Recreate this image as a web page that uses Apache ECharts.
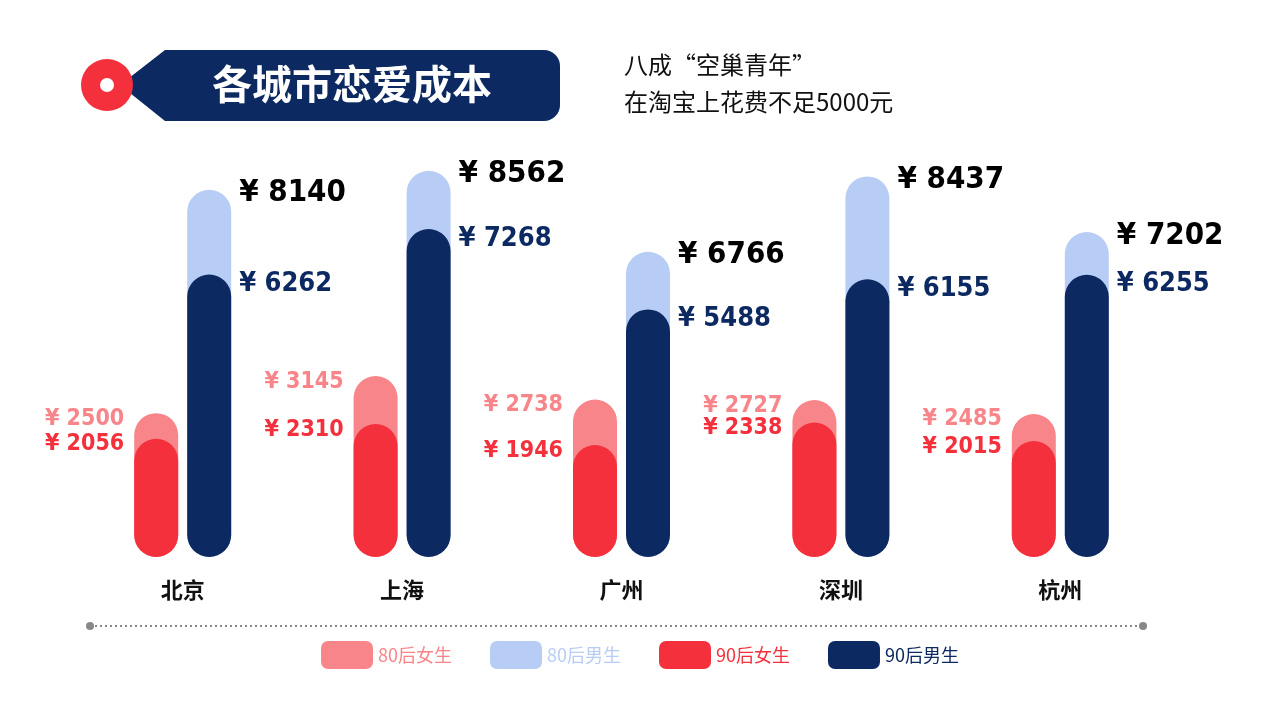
<!DOCTYPE html>
<html><head><meta charset="utf-8">
<script src="https://cdn.jsdelivr.net/npm/echarts@6/dist/echarts.min.js"></script>
<style>html,body{margin:0;padding:0;background:#fff}#c{width:1280px;height:720px}</style>
</head><body><div id="c"></div>
<script>
const cities = ['北京','上海','广州','深圳','杭州'];
const f80 = [2500,3145,2738,2727,2485];
const m80 = [8140,8562,6766,8437,7202];
const f90 = [2056,2310,1946,2338,2015];
const m90 = [6262,7268,5488,6155,6255];
const legendNames = ['80后女生','80后男生','90后女生','90后男生'];

const C = {f80:'#f8858a', m80:'#b8cdf5', f90:'#f4303c', m90:'#0c2961'};
const narrow = '"DejaVu Sans Condensed"';
const chart = echarts.init(document.getElementById('c'));
const gl = 73, gw = 1097, off = 26.5;
function bar(name, data, color, idx, z, label){
  return {name, type:'bar', data, xAxisIndex:idx, yAxisIndex:idx, barWidth:44, barGap:'-100%', z,
    itemStyle:{color, borderRadius:22}, label};
}
chart.setOption({
  animation:false,
  grid:[
    {left:gl-off, width:gw, top:160, bottom:163},
    {left:gl+off, width:gw, top:160, bottom:163},
    {left:gl, width:gw, top:160, bottom:163}
  ],
  xAxis:[
    {gridIndex:0, type:'category', data:cities, show:false},
    {gridIndex:1, type:'category', data:cities, show:false},
    {gridIndex:2, type:'category', data:cities, axisLine:{show:false}, axisTick:{show:false},
     axisLabel:{margin:22, fontSize:22, fontWeight:'bold', color:'#111', fontFamily:'"Noto Sans CJK SC"'}}
  ],
  yAxis:[
    {gridIndex:0, type:'value', min:0, max:6900, show:false},
    {gridIndex:1, type:'value', min:0, max:8800, show:false},
    {gridIndex:2, type:'value', min:0, max:1, show:false}
  ],
  legend:{bottom:46, left:'center', itemWidth:52, itemHeight:28, itemGap:38, icon:'roundRect',
    data:[
      {name:'80后女生', textStyle:{color:C.f80}},
      {name:'80后男生', textStyle:{color:C.m80}},
      {name:'90后女生', textStyle:{color:C.f90}},
      {name:'90后男生', textStyle:{color:C.m90}}],
    textStyle:{fontSize:18, fontFamily:'"Noto Sans CJK SC"'}},
  series:[
    bar('80后女生', f80, C.f80, 0, 2, {show:true, position:[-10,-6], align:'right', verticalAlign:'top',
      formatter:'¥ {c}', color:C.f80, fontSize:23, fontFamily:narrow, fontWeight:'bold'}),
    bar('90后女生', f90, C.f90, 0, 3, {show:true, position:[-10,-6], align:'right', verticalAlign:'top',
      formatter:'¥ {c}', color:C.f90, fontSize:23, fontFamily:narrow, fontWeight:'bold'}),
    bar('80后男生', m80, C.m80, 1, 2, {show:true, position:[52,-12], align:'left', verticalAlign:'top',
      formatter:'¥ {c}', color:'#000', fontSize:31, fontFamily:narrow, fontWeight:'bold'}),
    bar('90后男生', m90, C.m90, 1, 3, {show:true, position:[52,-4], align:'left', verticalAlign:'top',
      formatter:'¥ {c}', color:C.m90, fontSize:27, fontFamily:narrow, fontWeight:'bold'})
  ],
  graphic:[
    {type:'polygon', shape:{points:[[120,85],[165,50],[200,50],[200,121],[165,121]]}, style:{fill:'#0c2961'}},
    {type:'rect', shape:{x:180, y:50, width:380, height:71, r:[0,16,16,0]}, style:{fill:'#0c2961'}},
    {type:'circle', shape:{cx:107, cy:85, r:26}, style:{fill:'#f4303c'}},
    {type:'circle', shape:{cx:107, cy:85, r:7}, style:{fill:'#fff'}},
    {type:'text', x:352, y:84, style:{text:'各城市恋爱成本', fill:'#fff', font:'bold 40px "Noto Sans CJK SC"', align:'center', verticalAlign:'middle'}},
    {type:'text', x:624, y:65, style:{text:'八成“空巢青年”', fill:'#111', font:'24px "Noto Sans CJK SC"', verticalAlign:'middle'}},
    {type:'text', x:624, y:102, style:{text:'在淘宝上花费不足5000元', fill:'#111', font:'24px "Noto Sans CJK SC"', verticalAlign:'middle'}},
    {type:'line', shape:{x1:90, y1:626, x2:1143, y2:626}, style:{stroke:'#888', lineWidth:2, lineDash:[2,3]}},
    {type:'circle', shape:{cx:90, cy:626, r:4}, style:{fill:'#888'}},
    {type:'circle', shape:{cx:1143, cy:626, r:4}, style:{fill:'#888'}}
  ]
});
</script></body></html>
